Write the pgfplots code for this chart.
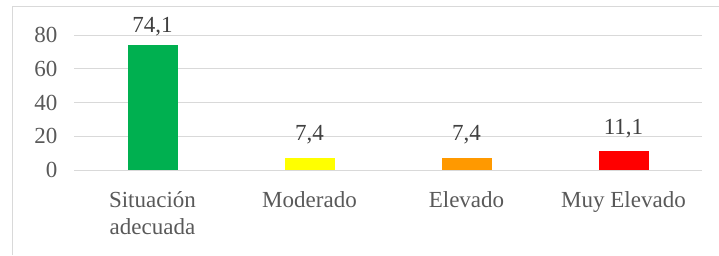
\documentclass[border=0pt]{standalone}
\usepackage{pgfplots}
\pgfplotsset{compat=1.18}
\usepackage{fontspec}
\setmainfont{Liberation Serif}
\definecolor{cgreen}{HTML}{00B050}
\definecolor{cyellow}{HTML}{FFFF00}
\definecolor{corange}{HTML}{FF9900}
\definecolor{cred}{HTML}{FF0000}
\definecolor{txt}{HTML}{595959}
\definecolor{val}{HTML}{404040}
\definecolor{gridc}{HTML}{D9D9D9}
\begin{document}
\begin{tikzpicture}[x=1pt,y=1pt]
\useasboundingbox (0,0) rectangle (719,-255);
\draw[gridc, line width=1pt] (12,-255) -- (12,-6) -- (719,-6);
\begin{axis}[
  at={(74pt,-170pt)}, anchor=south west,
  scale only axis, width=628pt, height=135pt,
  xmin=-0.5, xmax=3.5, ymin=0, ymax=80,
  ytick={0,20,40,60,80},
  xtick={0,1,2,3},
  xticklabels={{Situación\\adecuada},Moderado,Elevado,{Muy Elevado}},
  axis line style={draw=none},
  major tick length=0pt,
  ymajorgrids, grid style={gridc, line width=1pt},
  /pgf/number format/assume math mode=true,
  tick label style={font=\fontsize{23}{27}\selectfont, text=txt},
  yticklabel style={xshift=-13pt},
  xticklabel style={align=center, yshift=-18pt},
  ybar, bar width=50pt, bar shift=0pt,
  nodes near coords,
  point meta=y,
  every node near coord/.append style={font=\fontsize{23}{27}\selectfont, text=val, yshift=10pt,
    /pgf/number format/use comma, /pgf/number format/fixed, /pgf/number format/fixed zerofill,
    /pgf/number format/precision=1, /pgf/number format/assume math mode=true},
  clip=false,
]
\addplot[fill=cgreen, draw=none, every node near coord/.append style={yshift=-5pt}] coordinates {(0,74.1)};
\addplot[fill=cyellow, draw=none] coordinates {(1,7.4)};
\addplot[fill=corange, draw=none] coordinates {(2,7.4)};
\addplot[fill=cred, draw=none] coordinates {(3,11.1)};
\end{axis}
\end{tikzpicture}
\end{document}
